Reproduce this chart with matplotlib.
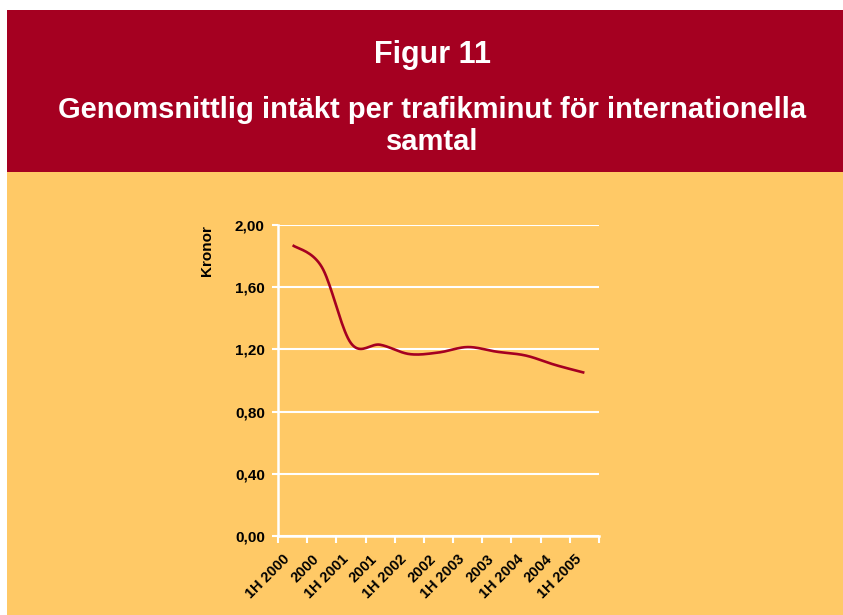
import numpy as np
import matplotlib.pyplot as plt
from matplotlib.patches import Rectangle
from matplotlib.transforms import ScaledTranslation

plt.rcParams['font.family'] = ['Liberation Sans', 'DejaVu Sans']

# data
periods = ['1H 2000', '2000', '1H 2001', '2001', '1H 2002', '2002',
           '1H 2003', '2003', '1H 2004', '2004', '1H 2005']
kronor = [1.87, 1.73, 1.24, 1.23, 1.17, 1.18, 1.215, 1.185, 1.16, 1.10, 1.05]
y_ticks = [0.0, 0.4, 0.8, 1.2, 1.6, 2.0]

red = '#A50021'
yellow = '#FFC966'


def smooth(xs, ys, n=20):
    # cardinal spline through the points, like Excel's "smoothed line"
    xs = np.asarray(xs, float)
    ys = np.asarray(ys, float)
    px = np.concatenate([[xs[0]], xs, [xs[-1]]])
    py = np.concatenate([[ys[0]], ys, [ys[-1]]])
    out_x, out_y = [], []
    t = np.linspace(0, 1, n)
    h00 = 2 * t**3 - 3 * t**2 + 1
    h10 = t**3 - 2 * t**2 + t
    h01 = -2 * t**3 + 3 * t**2
    h11 = t**3 - t**2
    for i in range(1, len(px) - 2):
        for p, out in ((px, out_x), (py, out_y)):
            m1 = (p[i + 1] - p[i - 1]) / 2
            m2 = (p[i + 2] - p[i]) / 2
            out.extend(h00 * p[i] + h10 * m1 + h01 * p[i + 1] + h11 * m2)
    return np.array(out_x), np.array(out_y)


fig = plt.figure(figsize=(8.43, 6.15), dpi=100)
fig.patch.set_facecolor('white')

# background panels
fig.add_artist(Rectangle((7 / 843, 0), 1, 1 - 172 / 615, transform=fig.transFigure,
                         facecolor=yellow, edgecolor='none', zorder=0))
fig.add_artist(Rectangle((7 / 843, 1 - 172 / 615), 1, 162 / 615, transform=fig.transFigure,
                         facecolor=red, edgecolor='none', zorder=0))

fig.text(432 / 843, 1 - 55 / 615, 'Figur 11', color='white', fontsize=22,
         fontweight='bold', ha='center', va='center')
fig.text(432 / 843, 1 - 126 / 615,
         'Genomsnittlig intäkt per trafikminut för internationella\nsamtal',
         color='white', fontsize=21, fontweight='bold', ha='center', va='center',
         linespacing=1.2)

ax = fig.add_axes([278 / 843, 1 - 536 / 615, 321 / 843, 311 / 615])
ax.patch.set_alpha(0)

x = np.arange(len(periods))
sx, sy = smooth(x, kronor)
ax.plot(sx, sy, color=red, linewidth=1.9, solid_capstyle='butt')

ax.set_xlim(-0.5, len(periods) - 0.5)
ax.set_ylim(0, 2.0)
ax.set_yticks(y_ticks)
ax.set_yticklabels([f'{v:.2f}'.replace('.', ',') for v in y_ticks],
                   fontsize=11, fontweight='bold')
ax.yaxis.grid(True, color='white', linewidth=1.5)
ax.set_axisbelow(True)

ax.set_xticks(np.arange(len(periods) + 1) - 0.5)
ax.set_xticklabels([])
ax.set_xticks(x, minor=True)
ax.set_xticklabels(periods, minor=True, rotation=45, ha='right', va='center',
                   rotation_mode='anchor', fontsize=10.5, fontweight='bold')
ax.tick_params(axis='x', which='minor', length=0, pad=15)
ax.tick_params(axis='x', which='major', length=5, width=1.5, color='white')
ax.tick_params(axis='y', length=4.5, width=1.5, color='white', pad=5)
shift = ScaledTranslation(-5 / 100, 0, fig.dpi_scale_trans)
for lbl in ax.get_xticklabels(minor=True):
    lbl.set_transform(lbl.get_transform() + shift)

for side in ['top', 'right']:
    ax.spines[side].set_visible(False)
for side in ['left', 'bottom']:
    ax.spines[side].set_color('white')
    ax.spines[side].set_linewidth(1.8)

fig.text(207 / 843, 1 - 251 / 615, 'Kronor', rotation=90, fontsize=11,
         fontweight='bold', ha='center', va='center')

fig.savefig('out.png', dpi=100)
